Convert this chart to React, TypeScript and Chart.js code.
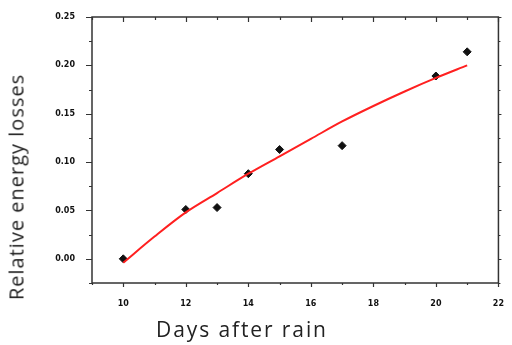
import React, { useEffect, useRef } from "react";
import { Chart, registerables } from "chart.js";

Chart.register(...registerables);

const days = [10, 12, 13, 14, 15, 17, 20, 21];
const losses = [0.0, 0.051, 0.053, 0.088, 0.113, 0.117, 0.189, 0.214];

const fitDays = [10, 11, 12, 13, 14, 15, 16, 17, 18, 19, 20, 21];
const fitValues = [-0.004, 0.023, 0.048, 0.068, 0.088, 0.106, 0.124, 0.142, 0.158, 0.173, 0.187, 0.2];

const xTitle = "Days after rain";
const yTitle = "Relative energy losses";

const framePlugin = {
  id: "frameTicks",
  afterDraw(chart: any) {
    const { ctx, chartArea, scales } = chart;
    const { left, right, top, bottom } = chartArea;
    ctx.save();
    ctx.strokeStyle = "#333";
    ctx.lineWidth = 1.5;
    ctx.strokeRect(left, top, right - left, bottom - top);
    ctx.lineWidth = 1.2;
    ctx.beginPath();
    for (const t of scales.x.ticks) {
      const px = Math.round(scales.x.getPixelForValue(t.value)) + 0.5;
      const major = Math.round(t.value) % 2 === 0;
      ctx.moveTo(px, bottom);
      ctx.lineTo(px, bottom + (major ? 4 : 2));
      ctx.moveTo(px, top);
      ctx.lineTo(px, top + (major ? 5 : 3));
    }
    for (const t of scales.y.ticks) {
      const py = Math.round(scales.y.getPixelForValue(t.value)) + 0.5;
      const major = Math.abs(Math.round(t.value * 1000) % 50) === 0;
      ctx.moveTo(left, py);
      ctx.lineTo(left - (major ? 6 : 3), py);
      ctx.moveTo(right, py);
      ctx.lineTo(right + (major ? 3 : 2), py);
    }
    ctx.stroke();
    ctx.restore();
  },
};

export default function App() {
  const ref = useRef<HTMLCanvasElement>(null);
  useEffect(() => {
    if (!ref.current) return;
    const chart = new Chart(ref.current, {
      type: "scatter",
      data: {
        datasets: [
          {
            type: "line",
            label: "fit",
            data: fitDays.map((d, i) => ({ x: d, y: fitValues[i] })),
            borderColor: "#ff2020",
            borderWidth: 2,
            pointRadius: 0,
            cubicInterpolationMode: "monotone",
            fill: false,
          } as any,
          {
            label: "data",
            data: days.map((d, i) => ({ x: d, y: losses[i] })),
            pointStyle: "rectRot",
            pointRadius: 4,
            backgroundColor: "#111",
            borderColor: "#111",
            borderWidth: 1,
          },
        ],
      },
      options: {
        responsive: false,
        animation: false,
        layout: { padding: { top: 17, right: 6, left: 0, bottom: 0 } },
        plugins: { legend: { display: false }, tooltip: { enabled: false } },
        scales: {
          x: {
            type: "linear",
            min: 9,
            max: 22,
            afterFit: (s: any) => {
              s.height = 62;
            },
            afterBuildTicks: (s: any) => {
              s.ticks = [];
              for (let v = 9; v <= 22; v++) s.ticks.push({ value: v });
            },
            grid: { display: false },
            border: { display: false },
            ticks: {
              autoSkip: false,
              maxRotation: 0,
              padding: 8,
              color: "#111",
              font: { family: "DejaVu Sans", size: 8, weight: "bold" },
              callback: (v: any) => (Math.round(v) % 2 === 0 ? String(v) : ""),
            },
          },
          y: {
            type: "linear",
            min: -0.025,
            max: 0.25,
            afterFit: (s: any) => {
              s.width = 92;
            },
            afterBuildTicks: (s: any) => {
              s.ticks = [];
              for (let i = -1; i <= 10; i++) s.ticks.push({ value: i * 0.025 });
            },
            grid: { display: false },
            border: { display: false },
            ticks: {
              autoSkip: false,
              padding: 9,
              color: "#111",
              font: { family: "DejaVu Sans", size: 8, weight: "bold" },
              callback: (v: any) => {
                const k = Math.round(v * 1000);
                return k % 50 === 0 && k >= 0 ? (k / 1000).toFixed(2) : "";
              },
            },
          },
        },
      },
      plugins: [framePlugin],
    });
    return () => chart.destroy();
  }, []);

  const titleFont = "'Open Sans', sans-serif";
  return (
    <div style={{ position: "fixed", left: 0, top: 0, width: 512, height: 345, background: "#fff" }}>
      <canvas ref={ref} width={512} height={345} style={{ display: "block" }} />
      <div
        style={{
          position: "absolute",
          left: 156,
          top: 315,
          fontFamily: titleFont,
          fontSize: 21,
          color: "#222",
          whiteSpace: "nowrap",
          letterSpacing: 1.9,
        }}
      >
        {xTitle}
      </div>
      <div
        style={{
          position: "absolute",
          left: 16,
          top: 187,
          transform: "translate(-50%, -50%) rotate(-90deg)",
          fontFamily: titleFont,
          fontSize: 20,
          color: "#222",
          whiteSpace: "nowrap",
          letterSpacing: 1.0,
        }}
      >
        {yTitle}
      </div>
    </div>
  );
}
